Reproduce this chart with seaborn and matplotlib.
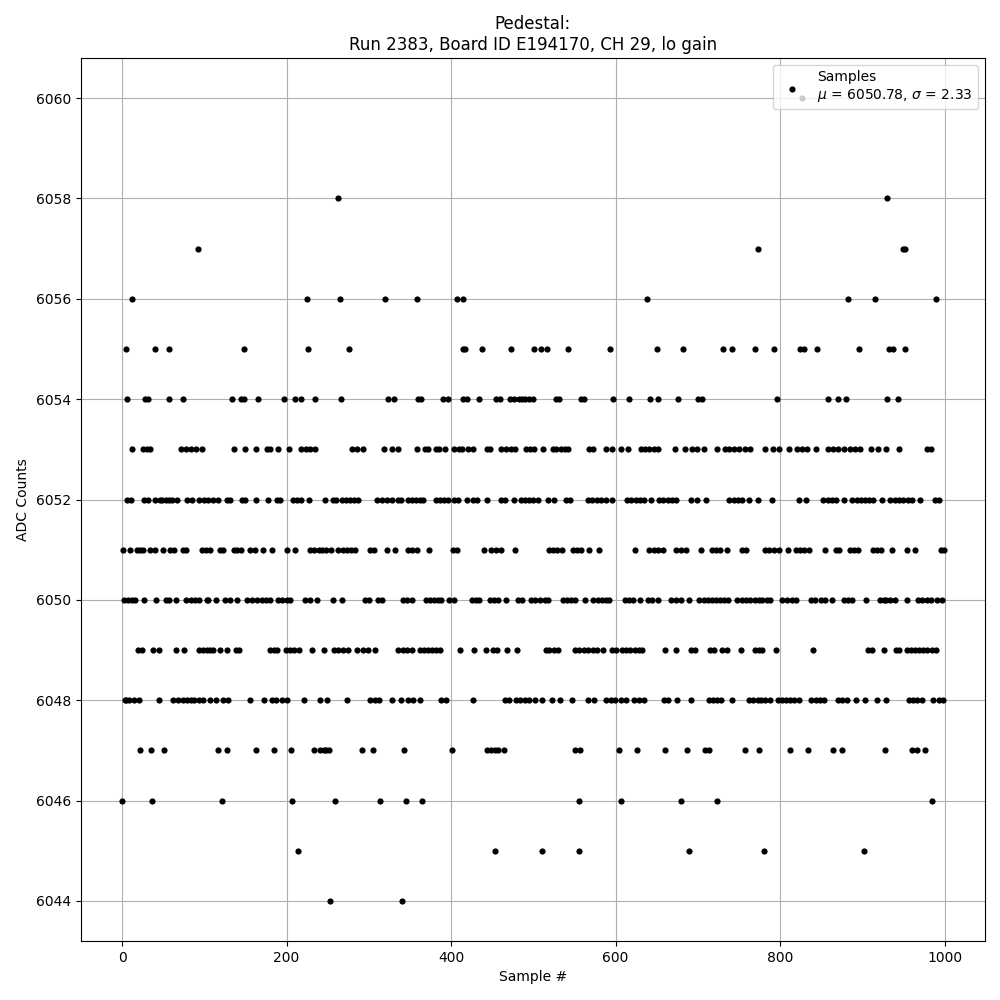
import matplotlib
matplotlib.use("Agg")
import matplotlib.pyplot as plt
import seaborn as sns
import pandas as pd

# Sample indices, grouped by ADC value
s6060 = [826]
s6058 = [263, 930]
s6057 = [92, 773, 949, 952]
s6056 = [12, 225, 265, 320, 359, 407, 415, 638, 883, 915, 989]
s6055 = [5, 40, 57, 148, 226, 276, 415, 417, 437, 473, 501, 509, 516, 542, 593,
         650, 682, 731, 742, 769, 793, 824, 829, 845, 896, 932, 937, 952]
s6054 = [6, 28, 31, 57, 74, 134, 144, 148, 165, 197, 210, 218, 235, 266, 323, 330,
         360, 363, 390, 396, 415, 419, 434, 455, 459, 472, 476, 482, 486, 490, 495,
         500, 527, 531, 558, 562, 597, 616, 642, 652, 676, 700, 705, 796, 858, 870,
         880, 930, 943]
s6053 = [12, 26, 30, 34, 72, 78, 84, 90, 97, 136, 150, 163, 176, 180, 189, 203, 218,
         223, 228, 235, 280, 286, 293, 318, 328, 336, 358, 368, 372, 381, 385, 393,
         404, 409, 413, 421, 426, 443, 447, 461, 467, 473, 478, 491, 496, 501, 512,
         524, 528, 533, 538, 542, 568, 572, 588, 595, 607, 615, 631, 636, 641, 646,
         651, 672, 684, 693, 699, 707, 723, 733, 738, 744, 750, 757, 763, 782, 791,
         798, 811, 821, 827, 832, 843, 858, 864, 870, 877, 885, 891, 897, 910, 919,
         928, 945, 978, 983]
s6052 = [6, 11, 27, 31, 40, 46, 49, 53, 57, 61, 67, 79, 85, 94, 99, 104, 110, 116,
         127, 131, 146, 150, 163, 177, 188, 192, 208, 213, 217, 227, 247, 256, 260,
         267, 272, 277, 282, 287, 310, 316, 322, 328, 335, 339, 347, 352, 357, 362,
         366, 382, 386, 391, 396, 404, 408, 419, 426, 432, 443, 461, 466, 477, 485,
         490, 495, 500, 506, 518, 525, 540, 545, 566, 571, 577, 582, 588, 595, 614,
         619, 625, 630, 635, 643, 653, 658, 663, 668, 673, 692, 699, 710, 738, 744,
         749, 754, 762, 773, 790, 823, 831, 852, 858, 863, 868, 877, 887, 893, 898,
         903, 908, 913, 924, 934, 939, 944, 949, 955, 960, 970, 988, 993]
s6051 = [1, 10, 18, 22, 26, 34, 40, 50, 58, 63, 74, 78, 97, 102, 107, 119, 123, 136,
         140, 145, 155, 162, 171, 182, 201, 210, 228, 233, 239, 243, 248, 254, 262,
         268, 273, 278, 283, 301, 306, 322, 332, 348, 353, 358, 373, 402, 407, 440,
         448, 455, 461, 478, 519, 524, 529, 535, 548, 553, 558, 567, 580, 624, 640,
         646, 651, 658, 673, 680, 686, 704, 717, 722, 727, 735, 754, 758, 782, 786,
         792, 798, 809, 819, 824, 829, 835, 854, 868, 872, 885, 890, 895, 913, 918,
         922, 936, 954, 964, 995, 999]
s6050 = [2, 7, 12, 16, 27, 41, 53, 57, 65, 78, 84, 89, 94, 103, 105, 114, 125, 131,
         140, 152, 158, 164, 170, 175, 180, 190, 194, 200, 204, 222, 228, 237, 256,
         267, 295, 300, 311, 316, 341, 346, 352, 369, 374, 379, 384, 388, 397, 403,
         425, 430, 434, 447, 452, 457, 467, 481, 486, 497, 502, 508, 514, 518, 536,
         541, 546, 551, 563, 573, 578, 583, 588, 592, 611, 616, 621, 629, 639, 644,
         652, 667, 673, 680, 689, 701, 707, 712, 717, 722, 727, 732, 736, 748, 754,
         758, 763, 769, 774, 778, 784, 788, 802, 808, 814, 819, 837, 842, 849, 854,
         863, 877, 883, 887, 904, 921, 926, 929, 934, 939, 954, 967, 972, 978, 983,
         991, 997]
s6049 = [19, 24, 37, 45, 65, 75, 94, 98, 103, 107, 111, 119, 128, 138, 142, 180, 185,
         188, 199, 204, 209, 215, 231, 245, 258, 263, 269, 275, 285, 293, 299, 308,
         335, 341, 346, 353, 362, 367, 372, 377, 381, 387, 411, 428, 442, 451, 456,
         468, 480, 515, 519, 525, 530, 551, 556, 561, 566, 572, 577, 585, 596, 601,
         608, 613, 618, 623, 628, 632, 660, 673, 691, 696, 715, 720, 729, 735, 752,
         769, 774, 778, 795, 840, 907, 912, 926, 941, 945, 954, 959, 964, 969, 974,
         979, 985, 989]
s6048 = [3, 5, 8, 14, 20, 45, 62, 68, 74, 79, 84, 88, 93, 98, 107, 114, 123, 129,
         155, 173, 182, 187, 194, 201, 221, 241, 249, 274, 301, 307, 312, 328, 339,
         348, 354, 362, 388, 394, 426, 465, 470, 479, 484, 490, 495, 502, 510, 522,
         532, 547, 566, 574, 588, 594, 599, 607, 612, 622, 628, 634, 659, 663, 675,
         692, 713, 718, 723, 728, 741, 762, 767, 773, 777, 782, 788, 797, 802, 807,
         812, 817, 823, 837, 843, 848, 853, 870, 875, 881, 892, 903, 918, 929, 956,
         962, 966, 972, 986, 993, 998]
s6047 = [22, 35, 51, 116, 127, 163, 185, 205, 233, 240, 245, 248, 251, 292, 305, 343,
         401, 443, 448, 453, 457, 464, 550, 557, 604, 626, 660, 687, 709, 713, 757,
         774, 812, 834, 864, 875, 927, 960, 966, 976]
s6046 = [0, 36, 122, 207, 259, 314, 345, 364, 555, 606, 680, 723, 984]
s6045 = [214, 453, 510, 556, 689, 780, 902]
s6044 = [253, 340]

mu_label = 6050.78
sigma_label = 2.33
title_text = "Pedestal:\nRun 2383, Board ID E194170, CH 29, lo gain"

groups = [(6060, s6060), (6058, s6058), (6057, s6057), (6056, s6056), (6055, s6055),
          (6054, s6054), (6053, s6053), (6052, s6052), (6051, s6051), (6050, s6050),
          (6049, s6049), (6048, s6048), (6047, s6047), (6046, s6046), (6045, s6045),
          (6044, s6044)]
recs = []
for val, idxs in groups:
    for i in idxs:
        recs.append((i, val))
df = pd.DataFrame(recs, columns=["sample", "adc"]).sort_values("sample")

fig, ax = plt.subplots(figsize=(10, 10), dpi=100)
fig.subplots_adjust(left=0.081, right=0.985, top=0.942, bottom=0.059)

sns.scatterplot(data=df, x="sample", y="adc", color="black", s=20, linewidth=0,
                ax=ax, label="Samples\n$\\mu$ = %.2f, $\\sigma$ = %.2f" % (mu_label, sigma_label))

ax.set_xlim(-49.95, 1048.95)
ax.set_ylim(6043.2, 6060.8)
ax.set_yticks(range(6044, 6061, 2))
ax.set_xticks(range(0, 1001, 200))
ax.grid(True)
ax.set_axisbelow(True)
ax.set_xlabel("Sample #")
ax.set_ylabel("ADC Counts")
ax.set_title(title_text)
ax.legend(loc="upper right")

fig.savefig("out.png", dpi=100)
